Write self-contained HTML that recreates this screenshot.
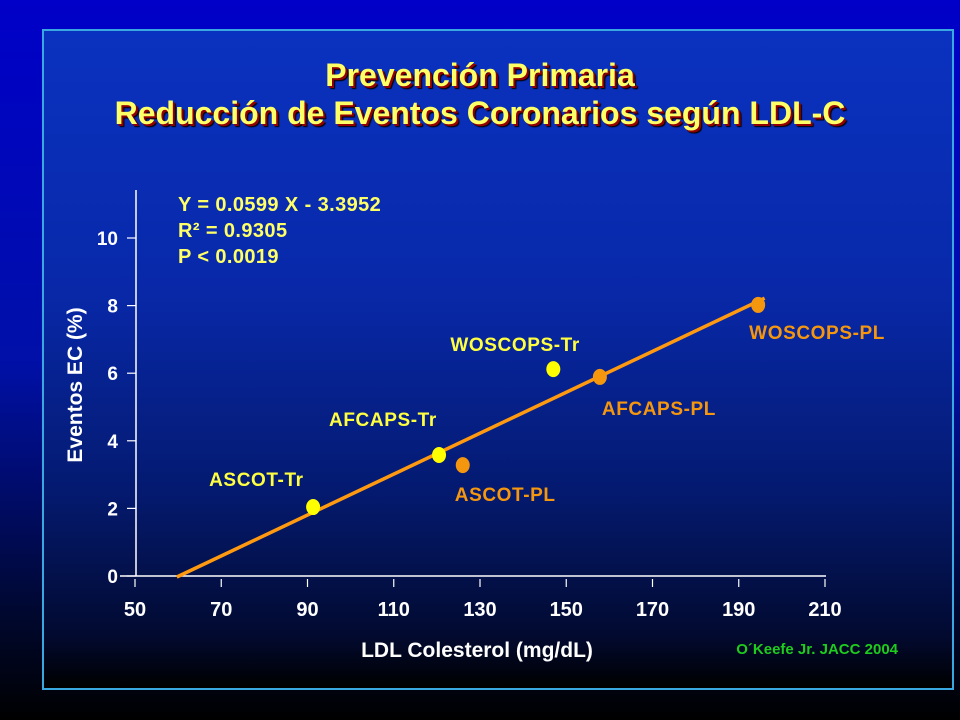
<!DOCTYPE html>
<html><head><meta charset="utf-8">
<style>
html,body{margin:0;padding:0}
body{width:960px;height:720px;overflow:hidden;background:linear-gradient(#0000c8 0%,#0010a8 50%,#000830 85%,#000 100%);font-family:"Liberation Sans",sans-serif}
#panel{position:absolute;left:42px;top:29px;width:912px;height:661px;border:2px solid #3aa8e0;box-sizing:border-box;background:linear-gradient(#0a32c0 0%,#0828a8 40%,#041a70 70%,#020a30 92%,#000 100%)}
.title{position:absolute;left:0;width:960px;text-align:center;color:#ffff66;font-weight:bold;font-size:32px;text-shadow:2px 2px 0 #900000,3px 3px 1px #000}
</style></head><body>
<div id="panel"></div>
<div class="title" style="top:57px">Prevención Primaria</div>
<div class="title" style="top:95px">Reducción de Eventos Coronarios según LDL-C</div>
<svg id="chart" width="960" height="720" style="position:absolute;left:0;top:0"></svg>
<script>
const xTicks=[50,70,90,110,130,150,170,190,210];
const yTicks=[0,2,4,6,8,10];
const studyNames=["ASCOT-Tr","AFCAPS-Tr","WOSCOPS-Tr","ASCOT-PL","AFCAPS-PL","WOSCOPS-PL"];
const ldlValues=[91.3,120.5,147,126,157.8,194.5];
const eventValues=[2.04,3.58,6.12,3.28,5.89,8.02];
const groupValues=["Tr","Tr","Tr","PL","PL","PL"];
const fitLineX=[59.7,196];
const fitLineY=[-0.03,8.22];

const X0=135,X1=825,Y0=576,Y1=238;
function sx(v){return X0+(v-50)/(210-50)*(X1-X0);}
function sy(v){return Y0-(v-0)/(10-0)*(Y0-Y1);}
const svg=document.getElementById('chart');
const NS="http://www.w3.org/2000/svg";
function mk(tag,attrs,parent){const e=document.createElementNS(NS,tag);for(const k in attrs)e.setAttribute(k,attrs[k]);(parent||svg).appendChild(e);return e;}
const WHITE="#ffffff",FONT="Liberation Sans, sans-serif";

let ax=mk('line',{x1:136,y1:190,x2:136,y2:Y0,stroke:WHITE,'stroke-width':1.5});


let bx=mk('line',{x1:120,y1:Y0,x2:826,y2:Y0,stroke:WHITE,'stroke-width':1.5});



xTicks.forEach(t=>{
  const x=sx(t);
  const tk=mk('line',{x1:x,y1:Y0+3,x2:x,y2:Y0+11,stroke:WHITE,'stroke-width':1.2});
  
  
  const tx=mk('text',{x:x,y:616,'text-anchor':'middle',fill:WHITE,'font-family':FONT,'font-weight':'bold','font-size':20});
  tx.textContent=t;
  
  
});
yTicks.forEach(t=>{
  const y=sy(t);
  const tk=mk('line',{x1:127,y1:y,x2:136,y2:y,stroke:WHITE,'stroke-width':1.2});
  
  
  const tx=mk('text',{x:118,y:y+7,'text-anchor':'end',fill:WHITE,'font-family':FONT,'font-weight':'bold','font-size':19});
  tx.textContent=t;
  
  
});

const xt=mk('text',{x:477,y:657,'text-anchor':'middle',fill:WHITE,'font-family':FONT,'font-weight':'bold','font-size':21});
xt.textContent="LDL Colesterol (mg/dL)";


const yt=mk('text',{x:0,y:0,'text-anchor':'middle',fill:WHITE,'font-family':FONT,'font-weight':'bold','font-size':21,transform:'translate(82,385) rotate(-90)'});
yt.textContent="Eventos EC (%)";



const fl=mk('line',{x1:sx(fitLineX[0]),y1:sy(fitLineY[0]),x2:sx(fitLineX[1]),y2:sy(fitLineY[1]),stroke:'#ff9a10','stroke-width':3.5});



const labelOffsets={"ASCOT-Tr":[-104,-21],"AFCAPS-Tr":[-110,-29],"WOSCOPS-Tr":[-103,-18],"ASCOT-PL":[-8,36],"AFCAPS-PL":[2,38],"WOSCOPS-PL":[-9,34]};
studyNames.forEach((n,i)=>{
  const x=sx(ldlValues[i]),y=sy(eventValues[i]);
  const col=groupValues[i]==="Tr"?"#ffff00":"#f5960f";
  const c=mk('ellipse',{cx:x,cy:y,rx:7,ry:8,fill:col});
  
  
  const o=labelOffsets[n];
  const t=mk('text',{x:x+o[0],y:y+o[1],fill:groupValues[i]==="Tr"?"#ffff40":"#f5960f",'font-family':FONT,'font-weight':'bold','font-size':19,'letter-spacing':0.6});
  t.textContent=n;
  
  
});

const eq=["Y = 0.0599 X - 3.3952","R² = 0.9305","P < 0.0019"];
eq.forEach((s,i)=>{
  const t=mk('text',{x:178,y:211+i*26,fill:'#ffff66','font-family':FONT,'font-weight':'bold','font-size':20,'letter-spacing':0.4});
  t.textContent=s;
  
  
});
const src=mk('text',{x:898,y:654,'text-anchor':'end',fill:'#1ecc1e','font-family':FONT,'font-weight':'bold','font-size':15});
src.textContent="O´Keefe Jr. JACC 2004";


</script>
</body></html>
